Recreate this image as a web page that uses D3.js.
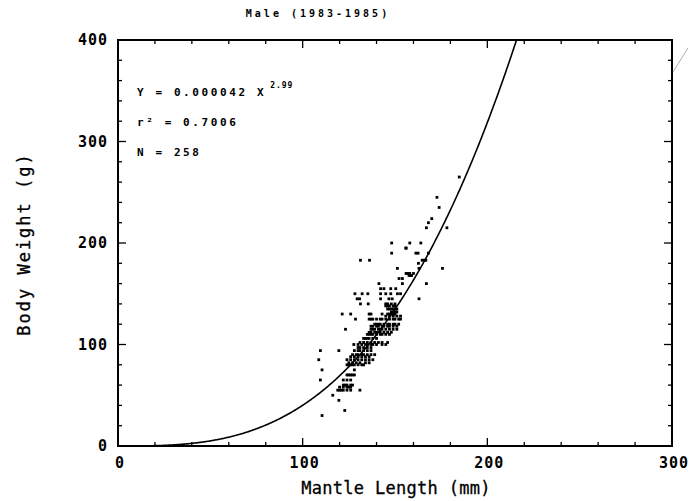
<!DOCTYPE html>
<html>
<head>
<meta charset="utf-8">
<script src="https://cdn.jsdelivr.net/npm/d3@7"></script>
<style>
  html, body { margin: 0; padding: 0; background: #fff; }
  svg { display: block; }
  text { font-family: "DejaVu Sans Mono", monospace; fill: #000; }
</style>
</head>
<body>
<svg id="chart" width="690" height="501"></svg>
<script>
// ---------- data ----------
const title = "Male (1983-1985)";
const xLabel = "Mantle Length (mm)";
const yLabel = "Body Weight (g)";
const xTicks = [0, 100, 200, 300];
const yTicks = [0, 100, 200, 300, 400];
const minorStep = 20;
const fitA = 0.000042;   // Y = a X^b
const fitB = 2.99;
const r2Text = "0.7006";
const nText = "258";

// observed points grouped by body weight (g): weights[i] pairs with lengths[i] (mm)
const weights = [30, 35, 45, 50, 55, 58, 60, 65, 70, 75, 80, 82, 85, 88, 90, 94, 97, 100, 102, 106,
  110, 112, 115, 118, 120, 125, 128, 130, 132, 135, 138, 140, 145, 150, 155, 160, 165, 168, 170,
  175, 180, 183, 190, 195, 200, 215, 220, 224, 235, 245, 265];
const lengths = [
  [110.5], [122.8], [119.6], [116.3],
  [119, 120, 121, 122, 124, 126, 131],
  [120, 122, 124, 125, 126],
  [122, 123, 124, 126, 127],
  [109.6, 122, 124, 126],
  [124, 125, 126, 127, 128],
  [110.5, 128],
  [124, 125, 126, 127, 128, 130, 132, 133],
  [125, 127, 129, 131, 134, 136],
  [108.7, 124, 126, 128, 130, 132, 134, 136, 138],
  [126, 128, 130, 132, 134, 136],
  [127, 129, 130, 132, 133, 135, 137, 139],
  [109.6, 119.6, 128, 130, 131, 133, 135, 137],
  [130, 131, 133, 135, 137],
  [127.7, 130, 132, 134, 135, 137, 138, 140, 143, 145],
  [131, 133, 135, 137, 139, 141, 143, 146],
  [133, 134, 135, 136, 138, 140],
  [135, 136, 137, 138, 140, 142, 143, 145, 147],
  [136, 137, 139, 140, 142, 144, 146, 148],
  [123.2, 137, 138, 139, 141, 142, 143, 145, 147, 149, 151],
  [137, 138, 140, 141, 143, 144, 146, 147, 149, 151],
  [139, 140, 141, 142, 144, 146, 147, 149, 150, 152],
  [128.6, 136, 137, 138, 140, 142, 143, 145, 147, 149, 150, 152, 153],
  [145, 147, 149, 151, 153],
  [121.4, 126, 136, 137, 143, 146, 147, 148, 149, 150],
  [148, 149, 150, 151],
  [146, 147, 148, 149, 150, 151],
  [145, 146, 147, 149, 150],
  [131.3, 135.5, 145, 146, 148, 150],
  [129.5, 130.8, 142.2, 146.7, 148.5, 163],
  [128.3, 132.2, 135.3, 142.2, 145, 147.7, 151.3, 153],
  [142.2, 144, 147.7, 150.4],
  [141.3, 154, 167],
  [152.2, 154],
  [157.6, 158.5, 159],
  [156, 157, 158, 160],
  [151.3, 163, 175.7],
  [162.7],
  [131.3, 136.2, 164.7, 165.8, 166.7],
  [148.2, 161.3, 162.5, 168.1],
  [155.8, 156.1],
  [148.2, 158, 164],
  [167, 178.1],
  [168.1], [169.9], [173.9], [172.7], [184.8]
];

// ---------- layout ----------
const svg = d3.select("#chart");
const mLeft = 118, mRight = 672, mTop = 40, mBottom = 446;

const x = d3.scaleLinear().domain([0, 300]).range([mLeft, mRight]);
const y = d3.scaleLinear().domain([0, 400]).range([mBottom, mTop]);

// points table built from arrays
const points = [];
weights.forEach((w, i) => lengths[i].forEach(l => points.push({ l, w })));

// clip
svg.append("defs").append("clipPath").attr("id", "clip")
  .append("rect").attr("x", mLeft).attr("y", mTop).attr("width", mRight - mLeft).attr("height", mBottom - mTop);

// ticks (inward on all four sides)
const minorX = d3.range(0, 301, minorStep);
const minorY = d3.range(0, 401, minorStep);
const tickG = svg.append("g").attr("stroke", "#000").attr("stroke-width", 1.3);
minorX.forEach(v => {
  const len = xTicks.includes(v) ? 8 : 4;
  tickG.append("line").attr("x1", x(v)).attr("x2", x(v)).attr("y1", y(0)).attr("y2", y(0) - len);
  tickG.append("line").attr("x1", x(v)).attr("x2", x(v)).attr("y1", y(400)).attr("y2", y(400) + len);
});
minorY.forEach(v => {
  const len = yTicks.includes(v) ? 8 : 4;
  tickG.append("line").attr("x1", x(0)).attr("x2", x(0) + len).attr("y1", y(v)).attr("y2", y(v));
  tickG.append("line").attr("x1", x(300)).attr("x2", x(300) - len).attr("y1", y(v)).attr("y2", y(v));
});

// frame
svg.append("rect").attr("x", mLeft).attr("y", mTop).attr("width", mRight - mLeft).attr("height", mBottom - mTop)
  .attr("fill", "none").attr("stroke", "#000").attr("stroke-width", 2);

// fitted curve
const curveX = d3.range(0, 300.5, 0.5);
const line = d3.line().x(d => x(d)).y(d => y(fitA * Math.pow(d, fitB)));
svg.append("path").datum(curveX).attr("clip-path", "url(#clip)")
  .attr("d", line).attr("fill", "none").attr("stroke", "#000").attr("stroke-width", 1.6);

// scatter points
svg.append("g").selectAll("rect").data(points).join("rect")
  .attr("x", d => x(d.l) - 1.4).attr("y", d => y(d.w) - 1.4)
  .attr("width", 2.8).attr("height", 2.8).attr("fill", "#000");

// tick labels
svg.append("g").selectAll("text").data(xTicks).join("text")
  .attr("x", d => x(d) + 2).attr("y", 468).attr("text-anchor", "middle")
  .attr("font-size", 15).attr("font-weight", "bold").attr("letter-spacing", 1)
  .text(d => d);
svg.append("g").selectAll("text").data(yTicks).join("text")
  .attr("x", 108).attr("y", d => y(d) + 5).attr("text-anchor", "end")
  .attr("font-size", 15).attr("font-weight", "bold").attr("letter-spacing", 1)
  .text(d => d);

// title
svg.append("text").attr("x", 318).attr("y", 17).attr("text-anchor", "middle")
  .attr("font-size", 10).attr("font-weight", "bold").attr("letter-spacing", 3)
  .text(title);

// axis labels
svg.append("text").attr("x", 396).attr("y", 494).attr("text-anchor", "middle")
  .attr("font-size", 17).attr("letter-spacing", 0.3).attr("stroke", "#000").attr("stroke-width", 0.3)
  .text(xLabel);
svg.append("text").attr("transform", "translate(30,244) rotate(-90)").attr("text-anchor", "middle")
  .attr("font-size", 17).attr("letter-spacing", 2).attr("stroke", "#000").attr("stroke-width", 0.3)
  .text(yLabel);

// annotation
const ann = svg.append("g").attr("font-size", 11).attr("font-weight", "bold").attr("letter-spacing", 2.6);
const t1 = ann.append("text").attr("x", 137).attr("y", 96);
t1.append("tspan").text("Y = 0.000042 X");
t1.append("tspan").attr("dy", -8).attr("dx", 4).attr("font-size", 8).attr("letter-spacing", 1).text(String(fitB));
ann.append("text").attr("x", 137).attr("y", 126).text("r\u00B2 = " + r2Text);
ann.append("text").attr("x", 137).attr("y", 156).text("N = " + nText);

// scan artifact stroke at top-right
svg.append("line").attr("x1", 688).attr("y1", 48).attr("x2", 673).attr("y2", 72)
  .attr("stroke", "#999").attr("stroke-width", 0.8);
</script>
</body>
</html>
